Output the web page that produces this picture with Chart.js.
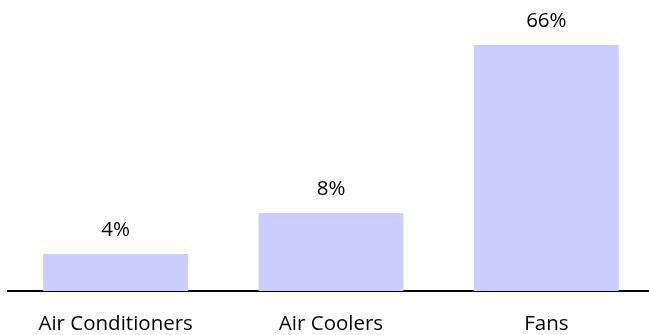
<!DOCTYPE html>
<html>
<head>
<meta charset="utf-8">
<script src="https://cdn.jsdelivr.net/npm/chart.js@4/dist/chart.umd.min.js"></script>
<style>
  html, body { margin: 0; padding: 0; background: #fff; overflow: hidden; }
  #wrap { width: 654px; height: 335px; position: relative; }
</style>
</head>
<body>
<div id="wrap"><canvas id="chart"></canvas></div>
<script>
const categories = ["Air Conditioners", "Air Coolers", "Fans"];
// bar heights as drawn in the picture (relative units)
const barValues = [9.9, 20.9, 66];
// text printed above each bar
const valueLabels = ["4%", "8%", "66%"];

const FONT = "'Open Sans', sans-serif";

// draws the percentage text above each bar
const topLabels = {
  id: "topLabels",
  afterDatasetsDraw: (chart) => {
    const ctx = chart.ctx;
    const meta = chart.getDatasetMeta(0);
    ctx.save();
    ctx.font = "20.5px " + FONT;
    ctx.fillStyle = "#000";
    ctx.textAlign = "center";
    ctx.textBaseline = "middle";
    meta.data.forEach((bar, i) => {
      ctx.fillText(valueLabels[i], bar.x, bar.y - 24);
    });
    ctx.restore();
  },
};

new Chart(document.getElementById("chart"), {
  type: "bar",
  data: {
    labels: categories,
    datasets: [
      {
        data: barValues,
        backgroundColor: "#ccccff",
        borderWidth: 0,
        categoryPercentage: 0.673,
        barPercentage: 1,
      },
    ],
  },
  options: {
    responsive: true,
    maintainAspectRatio: false,
    animation: false,
    devicePixelRatio: 1,
    layout: { padding: { left: 8, right: 0, top: 45, bottom: 0 } },
    plugins: {
      legend: { display: false },
      tooltip: { enabled: false },
    },
    scales: {
      x: {
        grid: { display: false, drawTicks: false },
        border: { display: true, color: "#000", width: 2 },
        ticks: {
          color: "#000",
          padding: 21,
          font: { family: FONT, size: 20.5 },
          maxRotation: 0,
        },
        afterFit: (scale) => {
          scale.height = 44;
        },
      },
      y: {
        display: false,
        min: 0,
        max: 66,
      },
    },
  },
  plugins: [topLabels],
});
</script>
</body>
</html>
